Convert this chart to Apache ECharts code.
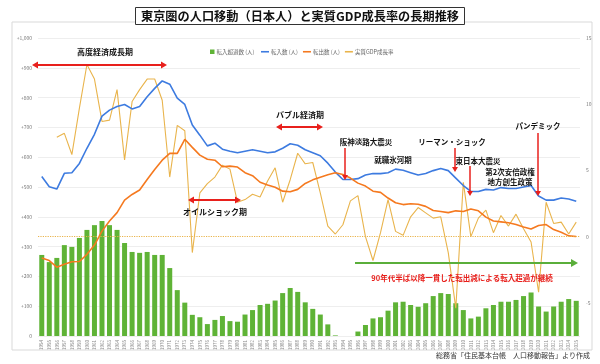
<!DOCTYPE html>
<html><head><meta charset="utf-8">
<script src="https://cdn.jsdelivr.net/npm/echarts@6/dist/echarts.min.js"></script>
<style>html,body{margin:0;padding:0;background:#fff}#c{width:600px;height:364px}</style>
</head><body><div id="c"></div>
<script>
const years = [];
for (let y = 1954; y <= 2025; y++) years.push(String(y));

// 転入超過数 (thousand persons)
const netIn = [272,248,262,305,299,329,356,372,386,372,356,312,282,279,282,272,272,228,154,112,
  71,63,40,54,67,50,48,72,87,104,108,119,144,161,148,113,91,72,39,2,
  -17,-5,15,37,59,63,85,113,115,104,98,110,134,144,141,110,87,59,65,93,
  104,115,115,121,134,146,99,82,99,115,124,118];
// 転入数
const inflow = [535,501,493,546,548,579,630,677,738,758,770,777,762,770,803,831,856,845,798,777,
  708,674,638,647,627,620,615,620,625,620,615,618,630,645,640,625,615,605,580,550,
  525,525,528,540,545,545,548,560,556,548,540,545,555,562,555,530,505,485,485,492,
  490,498,495,495,500,505,470,456,456,463,460,452];
// 転出数
const outflow = [262,253,231,241,249,250,274,305,352,386,414,456,475,490,525,559,590,613,613,660,
  633,607,593,590,568,570,567,548,538,516,507,499,486,484,492,512,524,533,541,548,
  542,530,513,503,486,482,463,447,441,444,442,435,421,418,414,420,418,426,420,399,
  386,383,380,374,366,359,371,374,357,348,336,334];
// 実質GDP成長率 (%)
const gdp = [null,null,7.5,7.8,6.2,9.7,13.0,11.9,8.7,8.8,11.1,5.8,10.2,11.1,11.9,11.9,10.3,4.5,8.4,8.0,
  -1.2,3.3,4.0,4.5,5.4,5.1,2.6,2.8,3.2,3.0,4.2,5.2,2.6,4.3,6.3,5.5,5.6,3.3,0.8,0.2,
  0.9,2.7,3.1,0.0,-1.8,0.3,2.8,0.4,0.1,1.5,2.2,1.8,1.4,1.5,-1.2,-5.4,4.1,0.0,1.4,2.0,
  0.3,1.6,0.8,1.7,0.6,-0.4,-4.2,2.6,1.0,1.1,0.2,1.1];

const leftTicks = [0,100,200,300,400,500,600,700,800,900,1000];
const rightTicks = [-5,0,5,10,15];

const FONT = '"Noto Sans CJK JP","Noto Sans",sans-serif';
const GREEN = '#5fb336', BLUE = '#3d7be0', ORANGE = '#f5791f', GOLD = '#e9b44c', RED = '#e8201c';

const chart = echarts.init(document.getElementById('c'), null, {renderer: 'canvas'});

function lbl(text, x, y, size, color) {
  return {type: 'text', x: x, y: y, z: 20, style: {text: text, font: 'bold ' + (size || 8) + 'px ' + FONT,
    fill: color || '#111', textAlign: 'center', textVerticalAlign: 'middle'}};
}
function harrow(x1, x2, y, color) {
  const c = color || RED;
  return [
    {type: 'line', z: 20, shape: {x1: x1 + 4, y1: y, x2: x2 - 4, y2: y}, style: {stroke: c, lineWidth: 2.2}},
    {type: 'polygon', z: 20, shape: {points: [[x1, y], [x1 + 6, y - 3.5], [x1 + 6, y + 3.5]]}, style: {fill: c}},
    {type: 'polygon', z: 20, shape: {points: [[x2, y], [x2 - 6, y - 3.5], [x2 - 6, y + 3.5]]}, style: {fill: c}}
  ];
}
function rarrow(x1, x2, y, color) {
  const c = color || RED;
  return [
    {type: 'line', z: 20, shape: {x1: x1, y1: y, x2: x2 - 4, y2: y}, style: {stroke: c, lineWidth: 2.2}},
    {type: 'polygon', z: 20, shape: {points: [[x2, y], [x2 - 7, y - 4], [x2 - 7, y + 4]]}, style: {fill: c}}
  ];
}
function varrow(x, y1, y2) {
  return [
    {type: 'line', z: 20, shape: {x1: x, y1: y1, x2: x, y2: y2 - 4}, style: {stroke: RED, lineWidth: 1.5}},
    {type: 'polygon', z: 20, shape: {points: [[x, y2], [x - 3, y2 - 5], [x + 3, y2 - 5]]}, style: {fill: RED}}
  ];
}

const graphics = [
  {type: 'rect', z: -1, shape: {x: 12, y: 22, width: 580, height: 328}, style: {fill: 'none', stroke: '#d9d9d9', lineWidth: 1}},
  {type: 'text', right: 10, top: 352, style: {text: '総務省「住民基本台帳　人口移動報告」より作成', font: '7px ' + FONT, fill: '#333'}},
  lbl('高度経済成長期', 105, 52),
  ...harrow(32, 167, 65),
  lbl('オイルショック期', 215, 212),
  ...harrow(188, 241, 200),
  lbl('バブル経済期', 300, 115),
  ...harrow(276, 323, 127),
  lbl('阪神淡路大震災', 366, 142, 7.5),
  ...varrow(345, 148, 180),
  lbl('就職氷河期', 393, 160, 7.5),
  lbl('リーマン・ショック', 452, 142, 7.5),
  ...varrow(455, 148, 172),
  lbl('東日本大震災', 478, 161, 7.5),
  ...varrow(470, 166, 196),
  lbl('第2次安倍政権', 510, 172, 7.5),
  lbl('地方創生政策', 510, 182, 7.5),
  lbl('パンデミック', 538, 126, 7.5),
  ...varrow(538, 133, 196),
  ...rarrow(355, 578, 263, '#5aae3a'),
  lbl('90年代半ば以降一貫した転出減による転入超過が継続', 462, 278, 7.5, RED)
];

const legendText = {fontSize: 5.5, color: '#666', fontFamily: FONT, padding: [0, 0, 0, -3]};

chart.setOption({
  animation: false,
  backgroundColor: '#fff',
  textStyle: {fontFamily: FONT},
  title: {
    text: '東京圏の人口移動（日本人）と実質GDP成長率の長期推移',
    left: 'center', top: 7,
    backgroundColor: '#fff', borderColor: '#333', borderWidth: 1, padding: [3, 6],
    textStyle: {fontSize: 12.2, fontWeight: 'bold', color: '#111', fontFamily: FONT}
  },
  legend: [
    {
      top: 44, left: 205, itemWidth: 4.5, itemHeight: 4.5, itemGap: 4, icon: 'rect',
      textStyle: legendText, data: ['転入超過数 (人)']
    },
    {
      top: 44, left: 256, itemWidth: 8, itemHeight: 1.6, itemGap: 5, icon: 'rect',
      textStyle: legendText, data: ['転入数 (人)', '転出数 (人)', '実質GDP成長率']
    }
  ],
  grid: {left: 38, right: 20, top: 38, bottom: 28, containLabel: false},
  xAxis: {
    type: 'category', data: years,
    axisLine: {show: false}, axisTick: {show: false},
    axisLabel: {rotate: 90, fontSize: 4.5, color: '#888', interval: 0, margin: 4}
  },
  yAxis: [
    {
      type: 'value', min: leftTicks[0], max: leftTicks[leftTicks.length - 1], interval: 100,
      axisLine: {show: false}, axisTick: {show: false},
      splitLine: {lineStyle: {color: '#eeeeee', width: 1}},
      axisLabel: {fontSize: 5, color: '#777', margin: 6,
        formatter: v => v === 0 ? '0' : '+' + v.toLocaleString('en-US')}
    },
    {
      type: 'value', min: -7.5, max: 15, position: 'right',
      axisLine: {show: false}, axisTick: {show: false}, splitLine: {show: false},
      axisLabel: {fontSize: 5, color: '#777', margin: 6, customValues: rightTicks}
    }
  ],
  series: [
    {name: '転入超過数 (人)', type: 'bar', data: netIn, barWidth: 5, itemStyle: {color: GREEN}, z: 1},
    {name: '転入数 (人)', type: 'line', data: inflow, symbol: 'none', lineStyle: {color: BLUE, width: 1.6}, itemStyle: {color: BLUE}, z: 3},
    {name: '転出数 (人)', type: 'line', data: outflow, symbol: 'none', lineStyle: {color: ORANGE, width: 1.6}, itemStyle: {color: ORANGE}, z: 3},
    {name: '実質GDP成長率', type: 'line', yAxisIndex: 1, data: gdp, symbol: 'none', lineStyle: {color: GOLD, width: 1.1}, itemStyle: {color: GOLD}, z: 2,
      markLine: {silent: true, symbol: 'none', label: {show: false}, lineStyle: {color: GOLD, type: 'dotted', width: 1.2},
        data: [{yAxis: 0}]}}
  ],
  graphic: graphics
});
</script></body></html>
